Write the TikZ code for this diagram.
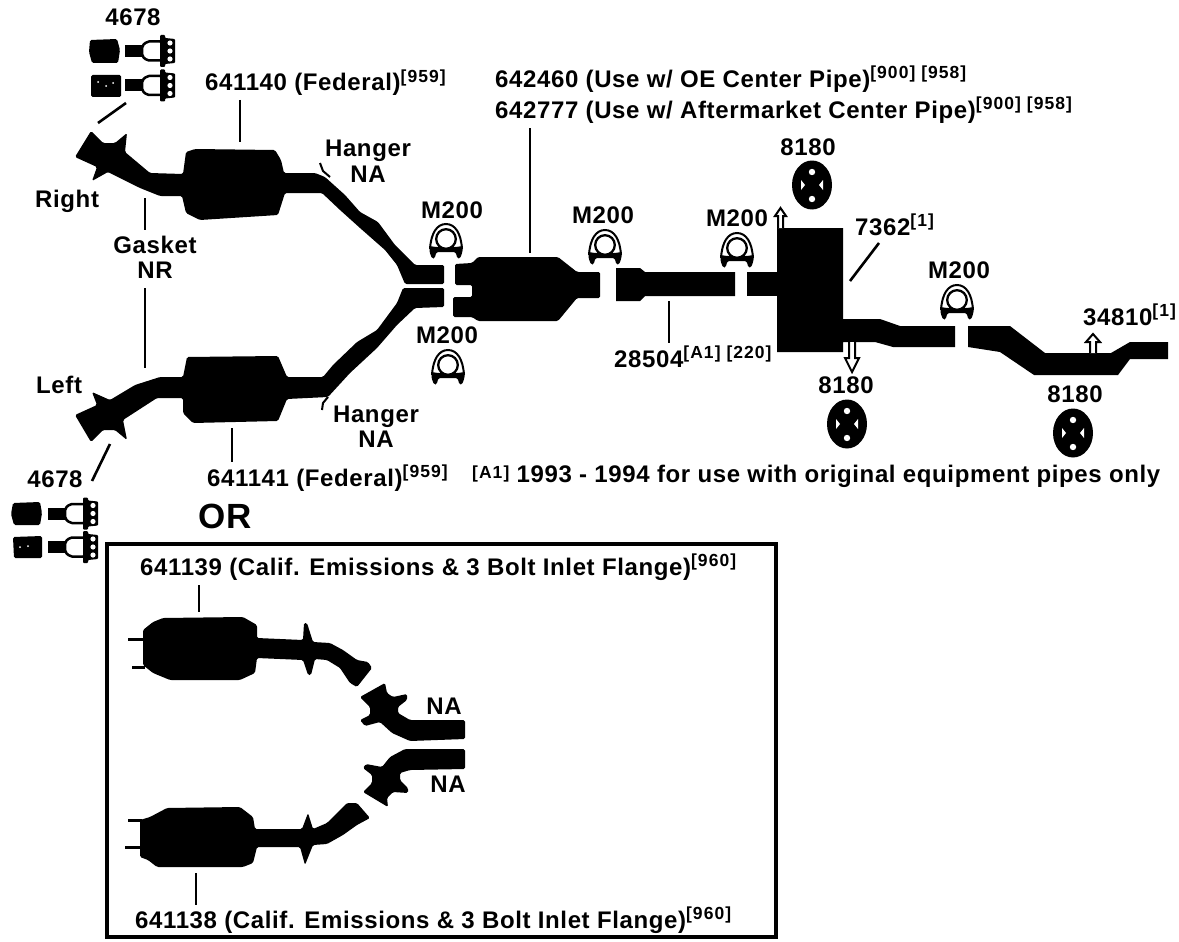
\documentclass[tikz,border=0pt]{standalone}
\usepackage{fontspec}
\setmainfont{Liberation Sans}[LetterSpace=2.6]
\newfontfamily\supfont{Liberation Sans}[LetterSpace=6]
\newcommand{\lblsize}{\fontsize{24}{26}\selectfont\bfseries}
\newcommand{\sups}[1]{\raisebox{9pt}{\supfont\fontsize{17.5}{18}\selectfont\bfseries #1}}
\newcommand{\supl}[1]{\raisebox{4pt}{\supfont\fontsize{17.5}{18}\selectfont\bfseries #1}}
\tikzset{
  lbl/.style={inner sep=0pt,font=\lblsize,anchor=base},
  lbll/.style={inner sep=0pt,font=\lblsize,anchor=base west},
  part/.style={fill=black,rounded corners=1.5pt},
  leader/.style={draw=black,line width=2.6pt},
  thinleader/.style={draw=black,line width=2pt},
  tick/.style={draw=black,line width=2pt},
  hollow/.style={draw=black,line width=2pt,fill=white},
}
\newcommand{\clampat}[1]{\begin{scope}[shift={(#1)}]
  \draw[line width=2pt,fill=white] (-16,10) .. controls (-15,-6) and (-9,-15) .. (0,-15) .. controls (9,-15) and (15,-6) .. (16,10);
  \fill[black,rounded corners=1.5pt] (-16.5,7) -- (-10,8) -- (10,8) -- (16.5,7) -- (16.5,13) -- (14,19.5) -- (11.5,19.5) -- (9.5,13) -- (-9.5,13) -- (-11.5,19.5) -- (-14,19.5) -- (-16.5,13) -- cycle;
  \draw[line width=2.3pt,fill=white] (0,0) circle (9.8);
\end{scope}}
\newcommand{\mountat}[1]{\begin{scope}[shift={(#1)}]
  \fill[black] (0,0) ellipse (20 and 24.5);
  \fill[white] (0,-13) circle (3.2);
  \fill[white] (0,14) circle (3.2);
  \fill[white] (-11,-5) -- (-7,0) -- (-11,5) -- cycle;
  \fill[white] (11,-5) -- (7,0) -- (11,5) -- cycle;
\end{scope}}
\newcommand{\boltat}[1]{\begin{scope}[shift={(#1)}]
  \fill[black] (36,-6) -- (53,-6) -- (53,6) -- (36,6) -- cycle;
  \draw[line width=2.5pt,fill=white,rounded corners=2pt] (73,-9.5) -- (58,-9.5) -- (53,-5) -- (53,5) -- (58,9.5) -- (73,9.5) -- cycle;
  \fill[black,rounded corners=1pt] (71,-16) -- (76,-16) -- (76,-13) -- (86,-12) -- (86,12) -- (76,13) -- (76,16) -- (71,16) -- cycle;
  \fill[white] (81,-8) circle (2.6);
  \fill[white] (81,0) circle (2.6);
  \fill[white] (81,8) circle (2.6);
\end{scope}}
\begin{document}
\begin{tikzpicture}[x=1pt,y=-1pt]
\useasboundingbox (0,0) rectangle (1179,942);
% labels
\node[lbl] (n4678a) at (133,26) {4678};
\node[lbll] (n641140) at (205,91) {641140 (Federal)\sups{[959]}};
\node[lbl] (hanger1) at (368,157) {Hanger};
\node[lbl] (na1) at (368,182) {NA};
\node[lbl] (m1) at (452,218) {M200};
\node[lbl] (m2) at (447,343) {M200};
\node[lbl] (m3) at (603,223) {M200};
\node[lbl] (m4) at (737,226) {M200};
\node[lbl] (m5) at (959,278) {M200};
\node[lbll] (right) at (35,207) {Right};
\node[lbl] (gasket) at (155,253) {Gasket};
\node[lbl] (nr) at (155,278) {NR};
\node[lbll] (left) at (36,393) {Left};
\node[lbl] (hanger2) at (376,422) {Hanger};
\node[lbl] (na2) at (376,447) {NA};
\node[lbl] (n4678b) at (55,487) {4678};
\node[lbll] (n641141) at (207,486) {641141 (Federal)\sups{[959]}};
\node[inner sep=0pt,anchor=base,font=\fontsize{35}{36}\selectfont\bfseries] (or) at (225,528) {OR};
\node[lbll] (n642460) at (495,88) {642460 (Use w/ OE Center Pipe)\sups{[900] [958]}};
\node[lbll] (n642777) at (495,118) {642777 (Use w/ Aftermarket Center Pipe)\sups{[900] [958]}};
\node[lbl] (m8180a) at (808,155) {8180};
\node[lbll] (n28504) at (614,367) {28504\sups{[A1] [220]}};
\node[lbll] (n7362) at (855,235) {7362\sups{[1]}};
\node[lbl] (m8180b) at (846,393) {8180};
\node[lbl] (m8180c) at (1075,402) {8180};
\node[lbll] (n34810) at (1083,325) {34810\sups{[1]}};
\node[lbll] (note) at (472,482) {\supl{[A1]} 1993 - 1994 for use with original equipment pipes only};
\node[lbll] (n641139) at (140,575) {641139 (Calif. Emissions \& 3 Bolt Inlet Flange)\sups{[960]}};
\node[lbll] (n641138) at (135,928) {641138 (Calif. Emissions \& 3 Bolt Inlet Flange)\sups{[960]}};
\node[lbl] (na3) at (444,714) {NA};
\node[lbl] (na4) at (448,792) {NA};
% right bank
\fill[part] (75,157) -- (91,131) -- (103,143) -- (115,143) -- (127,133) -- (125,152) -- (150,173) -- (183,174) -- (186,152) -- (195,149) -- (275,150) -- (281,160) -- (284,173) -- (315,173) -- (325,177) -- (345,195) -- (360,212) -- (378,222) -- (395,245) -- (415,265) -- (444,265) -- (444,284) -- (405,284) -- (397,265) -- (385,250) -- (360,228) -- (340,210) -- (322,193) -- (285,193) -- (278,215) -- (200,220) -- (186,213) -- (182,196) -- (160,196) -- (140,188) -- (108,172) -- (92,181) -- (97,167) -- cycle;
% left bank
\fill[part] (75,415) -- (91,442) -- (103,430) -- (115,430) -- (127,440) -- (123,420) -- (157,398) -- (183,398) -- (183,413) -- (193,423) -- (278,421) -- (287,399) -- (328,397) -- (350,373) -- (377,348) -- (397,325) -- (415,308) -- (444,307) -- (444,288) -- (403,288) -- (397,303) -- (377,330) -- (357,342) -- (333,365) -- (323,377) -- (287,377) -- (278,356) -- (187,357) -- (183,377) -- (160,377) -- (135,385) -- (110,400) -- (92,392) -- (97,405) -- cycle;
% centre converter
\fill[part] (455,264) -- (472,263) -- (478,257) -- (558,257) -- (577,272) -- (600,272) -- (600,298) -- (577,298) -- (558,321) -- (478,321) -- (472,317) -- (453,317) -- (453,297) -- (472,297) -- (472,285) -- (455,285) -- cycle;
\fill[black] (616,268) -- (640,268) -- (645,272) -- (735,272) -- (735,296) -- (645,296) -- (640,301) -- (616,301) -- cycle;
\fill[black] (747,272) rectangle (777,296);
\fill[black] (777,228) -- (843,228) -- (843,319) -- (880,319) -- (900,326) -- (955,326) -- (955,347) -- (893,347) -- (875,342) -- (843,342) -- (843,352) -- (777,352) -- cycle;
\fill[black] (968,326) -- (1010,326) -- (1045,353) -- (1111,353) -- (1130,342) -- (1168,342) -- (1168,359) -- (1130,359) -- (1118,375) -- (1034,375) -- (1000,352) -- (968,347) -- cycle;
% hanger ticks
\draw[tick] (320,163) -- (323,171) -- (330,177);
\draw[tick] (322,410) -- (323,403) -- (328,397);
% small arrows
\draw[hollow] (778,228) -- (778,216) -- (775,216) -- (780.5,208) -- (786,216) -- (783,216) -- (783,228);
\draw[hollow] (849,342) -- (849,358) -- (845,358) -- (852,372) -- (859,358) -- (855,358) -- (855,342);
\draw[hollow] (1090,353) -- (1090,342) -- (1086,342) -- (1093,334) -- (1100,342) -- (1096,342) -- (1096,353);
% clamps
\clampat{446,239}
\clampat{448,365}
\clampat{605,245}
\clampat{737,248}
\clampat{957,300}
% mounts
\mountat{812,185}
\mountat{847,424}
\mountat{1073,433}
% bolts and nuts
\fill[part] (90,40) -- (117,39) -- (120,50) -- (118,63) -- (92,63) -- (89,52) -- cycle;
\boltat{89,51}
\fill[part] (91,75) -- (121,75) -- (121,97) -- (91,97) -- cycle;
\fill[white] (98,82) circle (1) (106,86) circle (1) (113,83) circle (1);
\boltat{89,85.5}
\fill[part] (13,503) -- (40,502) -- (42,513) -- (40,525) -- (14,525) -- (11,514) -- cycle;
\boltat{12,513.5}
\fill[part] (13,537) -- (42,536) -- (42,558) -- (14,558) -- cycle;
\fill[white] (20,547) circle (1) (28,546) circle (1);
\boltat{12,547}
% leaders
\coordinate (a1) at (126,103); \coordinate (a2) at (98,123);
\coordinate (b1) at (240,100); \coordinate (b2) at (240,142);
\coordinate (c1) at (145,198); \coordinate (c2) at (145,230);
\coordinate (c3) at (145,288); \coordinate (c4) at (145,368);
\coordinate (d1) at (110,444); \coordinate (d2) at (92,481);
\coordinate (e1) at (232,428); \coordinate (e2) at (232,462);
\coordinate (f1) at (530,128); \coordinate (f2) at (530,253);
\coordinate (g1) at (669,301); \coordinate (g2) at (669,343);
\coordinate (h1) at (879,243); \coordinate (h2) at (850,281);
\coordinate (i1) at (199,585); \coordinate (i2) at (199,612);
\coordinate (j1) at (196,873); \coordinate (j2) at (196,905);
\draw[leader] (a1) -- (a2);
\draw[leader] (b1) -- (b2);
\draw[leader] (c1) -- (c2);
\draw[leader] (c3) -- (c4);
\draw[leader] (d1) -- (d2);
\draw[leader] (e1) -- (e2);
\draw[leader] (f1) -- (f2);
\draw[thinleader] (g1) -- (g2);
\draw[leader] (h1) -- (h2);
\draw[leader] (i1) -- (i2);
\draw[thinleader] (j1) -- (j2);
% inset
\draw[line width=3.5pt] (107,544) rectangle (776,937);
\fill[part] (143,630) -- (153,622) -- (163,618) -- (243,617) -- (257,625) -- (257,638) -- (303,640) -- (304,623) -- (307,623) -- (313,642) -- (330,643) -- (343,650) -- (357,660) -- (368,662) -- (372,668) -- (357,687) -- (350,683) -- (340,668) -- (327,660) -- (315,659) -- (311,675) -- (308,675) -- (303,660) -- (257,658) -- (255,673) -- (240,680) -- (170,680) -- (153,673) -- (143,665) -- cycle;
\fill[part] (360,697) -- (385,683) -- (387,693) -- (393,697) -- (407,694) -- (407,700) -- (398,707) -- (398,713) -- (410,720) -- (465,720) -- (465,739) -- (410,741) -- (392,733) -- (380,722) -- (365,726) -- (360,720) -- (370,715) -- (370,707) -- cycle;
\fill[part] (465,749) -- (405,749) -- (390,757) -- (382,767) -- (366,764) -- (363,768) -- (372,775) -- (372,783) -- (363,792) -- (388,807) -- (387,798) -- (393,792) -- (408,793) -- (408,788) -- (400,780) -- (400,773) -- (410,770) -- (465,769) -- cycle;
\fill[part] (140,820) -- (150,817) -- (167,808) -- (240,807) -- (253,817) -- (255,829) -- (302,829) -- (308,813) -- (313,829) -- (327,823) -- (347,803) -- (357,803) -- (370,818) -- (357,825) -- (343,835) -- (327,844) -- (313,845) -- (305,865) -- (300,847) -- (257,847) -- (253,863) -- (243,867) -- (157,867) -- (148,860) -- (140,857) -- cycle;
\draw[line width=3pt] (128,639) -- (143,639);
\draw[line width=3pt] (132,667) -- (145,667);
\draw[line width=3pt] (128,820) -- (142,820);
\draw[line width=3pt] (125,847) -- (142,847);
\end{tikzpicture}
\end{document}
